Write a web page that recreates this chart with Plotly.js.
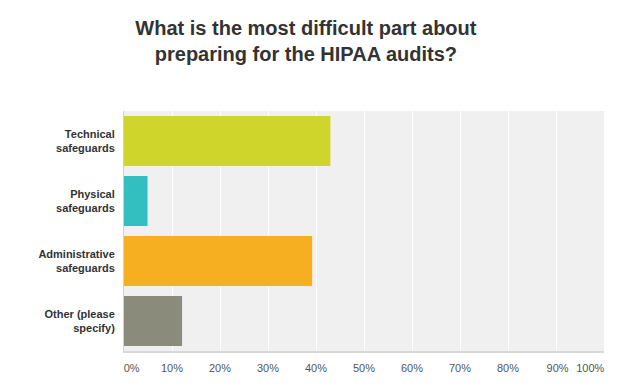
<!DOCTYPE html>
<html><head><meta charset="utf-8">
<script src="https://cdn.plot.ly/plotly-3.0.1.min.js"></script>
<style>html,body{margin:0;padding:0;background:#fff}</style>
</head><body>
<div id="chart" style="width:636px;height:391px"></div>
<script>
var categories = ["Technical<br>safeguards", "Physical<br>safeguards", "Administrative<br>safeguards", "Other (please<br>specify)"];
var values = [43.0, 4.9, 39.2, 12.1];
var colors = ["#cfd52b", "#33bfbf", "#f6af20", "#8b8b7b"];
var tickVals = [0, 10, 20, 30, 40, 50, 60, 70, 80, 90, 100];
var tickText = ["\u00a0\u00a0\u00a0\u00a0\u00a00%", "10%", "20%", "30%", "40%", "50%", "60%", "70%", "80%", "\u00a090%", "100%\u00a0\u00a0\u00a0\u00a0\u00a0\u00a0\u00a0\u00a0\u00a0"];
var titleText = "What is the most difficult part about<br>preparing for the HIPAA audits?";

var trace = {
  type: "bar", orientation: "h",
  x: values, y: categories,
  marker: {color: colors},
  hoverinfo: "none"
};
var layout = {
  width: 636, height: 391,
  margin: {l: 124, r: 32, t: 111, b: 40},
  paper_bgcolor: "#fff", plot_bgcolor: "#f0f0f0",
  bargap: 0.167,
  showlegend: false,
  title: {text: titleText, x: 0.481, xanchor: "center", y: 0.91, yanchor: "top",
    font: {family: "Liberation Sans, Arial, sans-serif", size: 20, color: "#333", weight: "bold"}},
  xaxis: {range: [0, 100], fixedrange: true, tickvals: tickVals, ticktext: tickText,
    showgrid: true, gridcolor: "#ffffff", gridwidth: 1, zeroline: false,
    showline: true, linecolor: "#d8d8d8", linewidth: 2,
    ticks: "outside", ticklen: 6, tickcolor: "rgba(0,0,0,0)",
    tickfont: {family: "Liberation Sans, Arial, sans-serif", size: 11, color: "#555"}},
  yaxis: {autorange: "reversed", fixedrange: true, showgrid: false, zeroline: false,
    showline: true, linecolor: "#d0d0d0", linewidth: 1,
    ticks: "outside", ticklen: 6, tickcolor: "rgba(0,0,0,0)",
    tickfont: {family: "Liberation Sans, Arial, sans-serif", size: 11, color: "#333", weight: "bold"}}
};
Plotly.newPlot("chart", [trace], layout, {displayModeBar: false, staticPlot: true});
</script>
</body></html>
